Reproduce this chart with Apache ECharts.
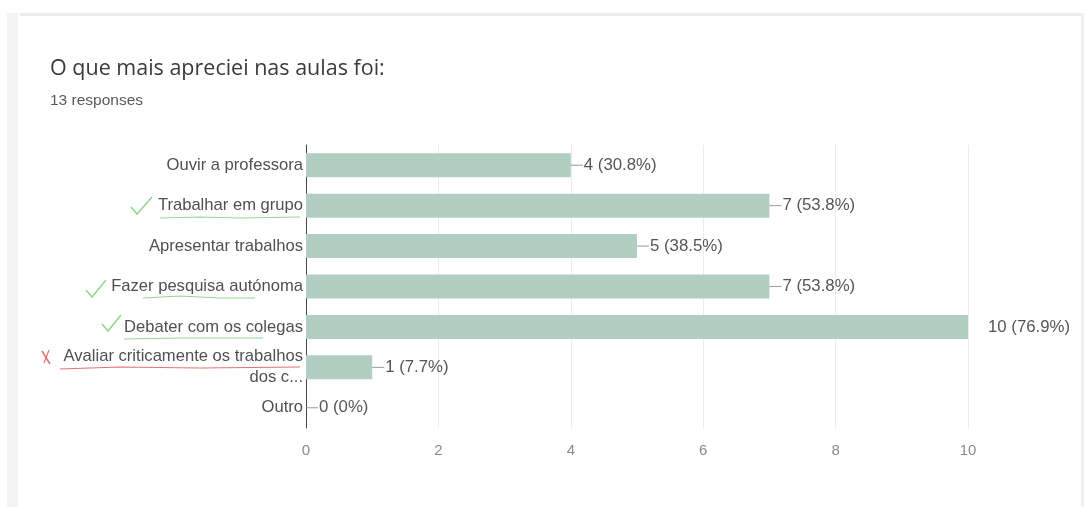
<!DOCTYPE html>
<html>
<head>
<meta charset="utf-8">
<script src="https://cdn.jsdelivr.net/npm/echarts@6/dist/echarts.min.js"></script>
<style>
html,body{margin:0;padding:0;background:#fff;}
#chart{width:1087px;height:507px;}
</style>
</head>
<body>
<div id="chart"></div>
<script>
const categories = [
  'Ouvir a professora',
  'Trabalhar em grupo',
  'Apresentar trabalhos',
  'Fazer pesquisa autónoma',
  'Debater com os colegas',
  'Avaliar criticamente os trabalhos\ndos c...',
  'Outro'
];
const counts = [4, 7, 5, 7, 10, 1, 0];
const percents = ['30.8%', '53.8%', '38.5%', '53.8%', '76.9%', '7.7%', '0%'];
const xTicks = [0, 2, 4, 6, 8, 10];

const title = 'O que mais apreciei nas aulas foi:';
const subtitle = '13 responses';

const chart = echarts.init(document.getElementById('chart'));

const maxVal = Math.max(...counts);
const seriesData = counts.map((v, i) => {
  const item = { value: v };
  if (v === maxVal) {
    item.label = { formatter: '{t|' + v + ' (' + percents[i] + ')}', distance: 19 };
  }
  return item;
});

const green = 'rgba(110,200,110,0.75)';
const red = 'rgba(220,80,80,0.8)';

chart.setOption({
  animation: false,
  backgroundColor: '#ffffff',
  title: [
    { text: title, left: 50, top: 58, padding: 0,
      textStyle: { fontFamily: 'Open Sans', fontSize: 21.5, fontWeight: 'normal', color: '#3a3a3a' } },
    { text: subtitle, left: 50, top: 93, padding: 0,
      textStyle: { fontFamily: 'Liberation Sans', fontSize: 15.5, fontWeight: 'normal', color: '#5a5a5a' } }
  ],
  grid: { left: 306, right: 119, top: 145, bottom: 79, containLabel: false },
  xAxis: {
    type: 'value', min: 0, max: 10, interval: 2,
    axisLine: { show: false }, axisTick: { show: false },
    splitLine: { show: true, lineStyle: { color: '#ececec', width: 1 } },
    axisLabel: { color: '#8a8a8a', fontFamily: 'Liberation Sans', fontSize: 15, margin: 15,
      formatter: v => xTicks.includes(v) ? String(v) : '' }
  },
  yAxis: {
    type: 'category', data: categories, inverse: true,
    axisLine: { show: true, lineStyle: { color: '#444', width: 1 } },
    axisTick: { show: false },
    axisLabel: { color: '#505050', fontFamily: 'Liberation Sans', fontSize: 16.6, margin: 3,
      lineHeight: 21, align: 'right' }
  },
  series: [{
    type: 'bar', data: seriesData, barWidth: 24,
    itemStyle: { color: '#b2cdc1' },
    label: {
      show: true, position: 'right', distance: 0,
      formatter: p => '{ln| }{t|' + p.value + ' (' + percents[p.dataIndex] + ')}',
      rich: {
        ln: { width: 12, height: 1, backgroundColor: '#9a9a9a', verticalAlign: 'middle' },
        t: { color: '#555', fontFamily: 'Liberation Sans', fontSize: 16.8, padding: [0, 0, 0, 1] }
      }
    }
  }],
  graphic: [
    // card frame
    { type: 'rect', shape: { x: 20, y: 13, width: 1063, height: 3 }, style: { fill: '#ececec' }, silent: true },
    { type: 'rect', shape: { x: 7, y: 13, width: 11, height: 494 }, style: { fill: '#f3f3f3' }, silent: true },
    { type: 'rect', shape: { x: 1081, y: 13, width: 3, height: 494 }, style: { fill: '#f1f1f1' }, silent: true },
    // hand annotations
    { type: 'polyline', shape: { points: [[131, 207], [137, 214], [152, 197]] }, style: { stroke: green, lineWidth: 1.5, fill: null } },
    { type: 'polyline', shape: { points: [[160, 218], [200, 217], [240, 218], [300, 217]] }, style: { stroke: green, lineWidth: 1.2, fill: null } },
    { type: 'polyline', shape: { points: [[86, 290], [92, 297], [106, 280]] }, style: { stroke: green, lineWidth: 1.5, fill: null } },
    { type: 'polyline', shape: { points: [[143, 298], [180, 296], [220, 298], [255, 298]] }, style: { stroke: green, lineWidth: 1.2, fill: null } },
    { type: 'polyline', shape: { points: [[102, 324], [108, 331], [121, 315]] }, style: { stroke: green, lineWidth: 1.5, fill: null } },
    { type: 'polyline', shape: { points: [[124, 339], [180, 338], [263, 338]] }, style: { stroke: green, lineWidth: 1.2, fill: null } },
    { type: 'polyline', shape: { points: [[42, 351], [50, 364]] }, style: { stroke: red, lineWidth: 1.5, fill: null } },
    { type: 'polyline', shape: { points: [[49, 350], [44, 363]] }, style: { stroke: red, lineWidth: 1.2, fill: null } },
    { type: 'polyline', shape: { points: [[60, 369], [120, 367], [200, 368], [300, 367]] }, style: { stroke: red, lineWidth: 1.2, fill: null } }
  ]
});
</script>
</body>
</html>
